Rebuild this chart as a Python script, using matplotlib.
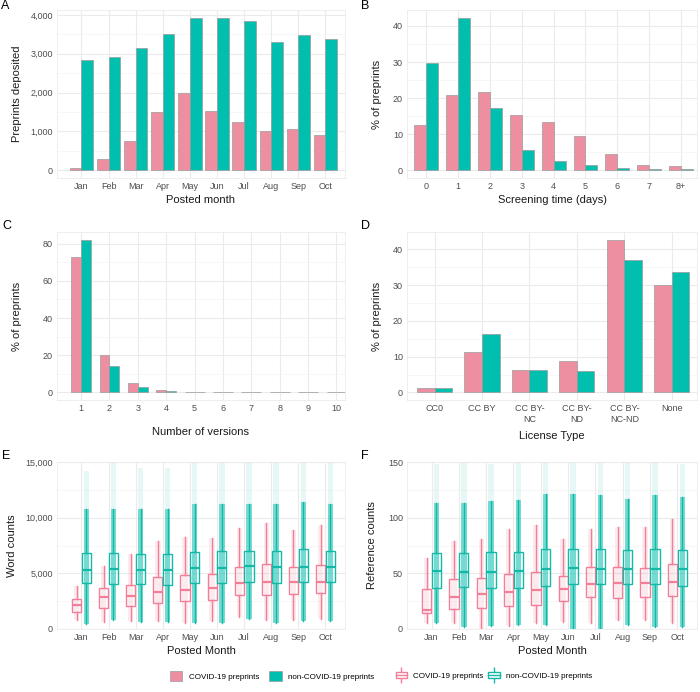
import numpy as np
import matplotlib
matplotlib.use("Agg")
import matplotlib.pyplot as plt
from matplotlib.patches import Patch
from matplotlib.lines import Line2D
from matplotlib.legend_handler import HandlerTuple
from matplotlib.ticker import FuncFormatter, MultipleLocator

plt.rcParams['font.family'] = ['Liberation Sans', 'DejaVu Sans']

PINK = '#EE8FA1'
TEAL = '#00BFAE'
PINK_BOX = '#F27E98'
TEAL_BOX = '#13B8A6'
EDGE = '#9A9A9A'

# --- data ---
months = ['Jan', 'Feb', 'Mar', 'Apr', 'May', 'Jun', 'Jul', 'Aug', 'Sep', 'Oct']

# A: preprints deposited per month
dep_covid = [50, 290, 750, 1490, 1980, 1520, 1240, 1020, 1060, 900]
dep_noncovid = [2850, 2910, 3140, 3500, 3910, 3930, 3840, 3310, 3490, 3390]

# B: screening time (days)
screen_days = ['0', '1', '2', '3', '4', '5', '6', '7', '8+']
screen_covid = [12.5, 21.0, 21.6, 15.3, 13.3, 9.6, 4.5, 1.6, 1.1]
screen_noncovid = [29.7, 42.3, 17.4, 5.7, 2.5, 1.5, 0.7, 0.4, 0.3]

# C: number of versions
versions = [1, 2, 3, 4, 5, 6, 7, 8, 9, 10]
ver_covid = [72.8, 19.9, 5.1, 1.3, 0.4, 0.2, 0.15, 0.1, 0.1, 0.1]
ver_noncovid = [82.2, 14.3, 2.7, 0.6, 0.15, 0.1, 0.05, 0, 0, 0]

# D: license type
licenses = ['CC0', 'CC BY', 'CC BY-\nNC', 'CC BY-\nND', 'CC BY-\nNC-ND', 'None']
lic_covid = [1.2, 11.2, 6.2, 8.8, 42.7, 30.0]
lic_noncovid = [1.2, 16.3, 6.2, 6.0, 36.9, 33.6]

# E: word counts (box stats)
wc_covid_low = [850, 650, 750, 700, 550, 700, 1100, 850, 800, 900]
wc_covid_q1 = [1520, 1880, 2090, 2330, 2480, 2570, 3040, 3050, 3160, 3200]
wc_covid_med = [2180, 2830, 2920, 3280, 3520, 3640, 4150, 4260, 4250, 4250]
wc_covid_q3 = [2680, 3670, 3940, 4650, 4860, 4920, 5550, 5820, 5550, 5730]
wc_covid_high = [3820, 5670, 6710, 7930, 8290, 8140, 9040, 9540, 8890, 9330]
wc_non_low = [480, 800, 600, 650, 500, 550, 900, 550, 700, 750]
wc_non_q1 = [4110, 4030, 4000, 3950, 4120, 4150, 4210, 4150, 4250, 4200]
wc_non_med = [5310, 5350, 5300, 5300, 5460, 5500, 5670, 5550, 5600, 5600]
wc_non_q3 = [6800, 6800, 6750, 6700, 6950, 7050, 7050, 7050, 7190, 7050]
wc_non_high = [10820, 10800, 10800, 10800, 11210, 11200, 11250, 11250, 11420, 11250]
wc_non_max = [14200, 15000, 14500, 14500, 15000, 15000, 15000, 15000, 15000, 15000]

# F: reference counts (box stats)
rc_covid_low = [5, 5, 0, 3, 5, 6, 5, 8, 8, 5]
rc_covid_q1 = [14, 18, 19, 21, 22, 25, 29, 28, 29, 30]
rc_covid_med = [17, 29, 31, 33, 35, 36, 40, 41, 41.5, 42]
rc_covid_q3 = [36, 45, 45.5, 49, 51, 48, 55.5, 55.5, 54.5, 58]
rc_covid_high = [64, 79, 81, 90, 93, 81, 90, 92, 92, 99]
rc_non_low = [5, 2, 3, 4, 4, 0, 0, 4, 2, 2]
rc_non_q1 = [37, 37.5, 37, 37, 39, 40, 40, 40, 40, 39]
rc_non_med = [52, 51, 51, 52, 54, 55, 54, 54, 54, 54]
rc_non_q3 = [68, 68, 69, 69, 72, 72, 72, 71, 72, 71]
rc_non_high = [113, 113, 115, 116, 121, 121, 120, 117, 120, 119]
rc_non_max = [148, 150, 148, 150, 150, 150, 150, 150, 150, 148]

W, H = 700, 692
fig = plt.figure(figsize=(W / 100, H / 100), dpi=100)


def add_ax(l, t, r, b):
    return fig.add_axes([l / W, 1 - b / H, (r - l) / W, (b - t) / H])


def style(ax, minor):
    for s in ax.spines.values():
        s.set_color('#EBEBEB')
        s.set_linewidth(0.6)
    ax.yaxis.set_minor_locator(MultipleLocator(minor))
    ax.grid(True, which='major', color='#EBEBEB', linewidth=0.8)
    ax.grid(True, which='minor', axis='y', color='#F4F4F4', linewidth=0.5)
    ax.set_axisbelow(True)
    ax.tick_params(which='both', length=0, labelsize=6.5, labelcolor='#4D4D4D', pad=3)


def dodge_bars(ax, x, covid, noncovid, w):
    x = np.asarray(x, dtype=float)
    ax.bar(x - w / 2, covid, w, color=PINK, edgecolor=EDGE, linewidth=0.5)
    ax.bar(x + w / 2, noncovid, w, color=TEAL, edgecolor=EDGE, linewidth=0.5)


comma = FuncFormatter(lambda v, p: f'{v:,.0f}')
title_kw = dict(fontsize=8, color='#1A1A1A')

# Panel A
axA = add_ax(57, 10, 345, 178)
dodge_bars(axA, range(len(months)), dep_covid, dep_noncovid, 0.43)
axA.set_xticks(range(len(months)), months)
axA.set_ylim(-197, 4127)
axA.set_xlim(-0.9, 9.72)
axA.yaxis.set_major_locator(MultipleLocator(1000))
axA.yaxis.set_major_formatter(comma)
style(axA, 500)
axA.set_xlabel('Posted month', labelpad=3, **title_kw)
axA.set_ylabel('Preprints deposited', labelpad=6, **title_kw)

# Panel B
axB = add_ax(407, 10, 697, 178)
dodge_bars(axB, range(len(screen_days)), screen_covid, screen_noncovid, 0.375)
axB.set_xticks(range(len(screen_days)), screen_days)
axB.set_ylim(-2.1, 44.4)
axB.set_xlim(-0.6, 8.5)
axB.yaxis.set_major_locator(MultipleLocator(10))
style(axB, 5)
axB.set_xlabel('Screening time (days)', labelpad=3, **title_kw)
axB.set_ylabel('% of preprints', labelpad=8, **title_kw)

# Panel C
axC = add_ax(57, 232, 345, 400)
dodge_bars(axC, versions, ver_covid, ver_noncovid, 0.35)
axC.set_xticks(versions, [str(v) for v in versions])
axC.set_ylim(-4.1, 86.3)
axC.set_xlim(0.15, 10.3)
axC.yaxis.set_major_locator(MultipleLocator(20))
style(axC, 10)
axC.set_xlabel('Number of versions', labelpad=10, **title_kw)
axC.set_ylabel('% of preprints', labelpad=15, **title_kw)

# Panel D
axD = add_ax(407, 232, 697, 400)
dodge_bars(axD, range(len(licenses)), lic_covid, lic_noncovid, 0.37)
axD.set_xticks(range(len(licenses)), licenses)
axD.set_ylim(-2.1, 44.8)
axD.set_xlim(-0.58, 5.53)
axD.yaxis.set_major_locator(MultipleLocator(10))
style(axD, 5)
axD.set_xlabel('License Type', labelpad=5, **title_kw)
axD.set_ylabel('% of preprints', labelpad=8, **title_kw)


def boxes(ax, low, q1, med, q3, high, pmax, ymax):
    x = np.arange(len(months))
    off, bw, jw = 0.18, 0.34, 0.2
    c_low, c_q1, c_med, c_q3, c_high = low[0], q1[0], med[0], q3[0], high[0]
    n_low, n_q1, n_med, n_q3, n_high = low[1], q1[1], med[1], q3[1], high[1]
    # point clouds summarised as translucent bands over their observed range
    ax.bar(x - off, np.subtract(c_high, c_low), jw, bottom=c_low,
           color=PINK, alpha=0.18, linewidth=0)
    ax.bar(x + off, np.subtract(n_high, n_low), jw, bottom=n_low,
           color=TEAL, alpha=0.55, linewidth=0)
    ax.bar(x + off, np.subtract(pmax, n_high), jw, bottom=n_high,
           color=TEAL, alpha=0.1, linewidth=0)
    for lo, a, m, b, hi, pos, col in [
            (c_low, c_q1, c_med, c_q3, c_high, x - off, PINK_BOX),
            (n_low, n_q1, n_med, n_q3, n_high, x + off, TEAL_BOX)]:
        stats = [dict(whislo=lo[i], q1=a[i], med=m[i], q3=b[i], whishi=hi[i])
                 for i in range(len(months))]
        ax.bxp(stats, positions=pos, widths=bw, showfliers=False, showcaps=False,
               patch_artist=True, manage_ticks=False,
               boxprops=dict(facecolor='none', edgecolor=col, linewidth=1.0),
               whiskerprops=dict(color=col, linewidth=1.0),
               medianprops=dict(color=col, linewidth=1.6))
    ax.set_xticks(x, months)
    ax.set_xlim(-0.9, 9.72)
    ax.set_ylim(0, ymax)


# Panel E
axE = add_ax(57, 462, 345, 629)
boxes(axE, (wc_covid_low, wc_non_low), (wc_covid_q1, wc_non_q1),
      (wc_covid_med, wc_non_med), (wc_covid_q3, wc_non_q3),
      (wc_covid_high, wc_non_high), wc_non_max, 15000)
axE.yaxis.set_major_locator(MultipleLocator(5000))
axE.yaxis.set_major_formatter(comma)
style(axE, 2500)
axE.set_xlabel('Posted Month', labelpad=3, **title_kw)
axE.set_ylabel('Word counts', labelpad=6, **title_kw)

# Panel F
axF = add_ax(407, 462, 697, 629)
boxes(axF, (rc_covid_low, rc_non_low), (rc_covid_q1, rc_non_q1),
      (rc_covid_med, rc_non_med), (rc_covid_q3, rc_non_q3),
      (rc_covid_high, rc_non_high), rc_non_max, 150)
axF.yaxis.set_major_locator(MultipleLocator(50))
style(axF, 25)
axF.set_xlabel('Posted Month', labelpad=3, **title_kw)
axF.set_ylabel('Reference counts', labelpad=8, **title_kw)

# panel letters
for lab, px, py in [('A', 1, 6), ('B', 361, 6), ('C', 2, 226),
                    ('D', 361, 226), ('E', 2, 456), ('F', 361, 456)]:
    fig.text(px / W, 1 - py / H, lab, fontsize=9, va='center', ha='left')

# legends
bar_handles = [Patch(facecolor=PINK, edgecolor=EDGE, linewidth=0.5),
               Patch(facecolor=TEAL, edgecolor=EDGE, linewidth=0.5)]
labels = ['COVID-19 preprints', 'non-COVID-19 preprints']
fig.legend(bar_handles, labels, loc='center', bbox_to_anchor=(272 / W, 1 - 676 / H),
           ncol=2, frameon=False, fontsize=5.8, handlelength=1.6, handleheight=1.6,
           columnspacing=1.2, handletextpad=0.8)


def box_glyph(col):
    return (Line2D([], [], color=col, marker='|', markersize=11, linestyle='none',
                   markeredgewidth=1.0),
            Patch(facecolor='white', edgecolor=col, linewidth=1.0),
            Line2D([], [], color=col, linewidth=1.0))


fig.legend([box_glyph(PINK_BOX), box_glyph(TEAL_BOX)], labels, loc='center',
           bbox_to_anchor=(494 / W, 1 - 676 / H), ncol=2, frameon=False, fontsize=5.8,
           handlelength=1.4, handleheight=0.8, columnspacing=0.6, handletextpad=0.8,
           handler_map={tuple: HandlerTuple(ndivide=1)})

fig.savefig('out.png', dpi=100, facecolor='white')
